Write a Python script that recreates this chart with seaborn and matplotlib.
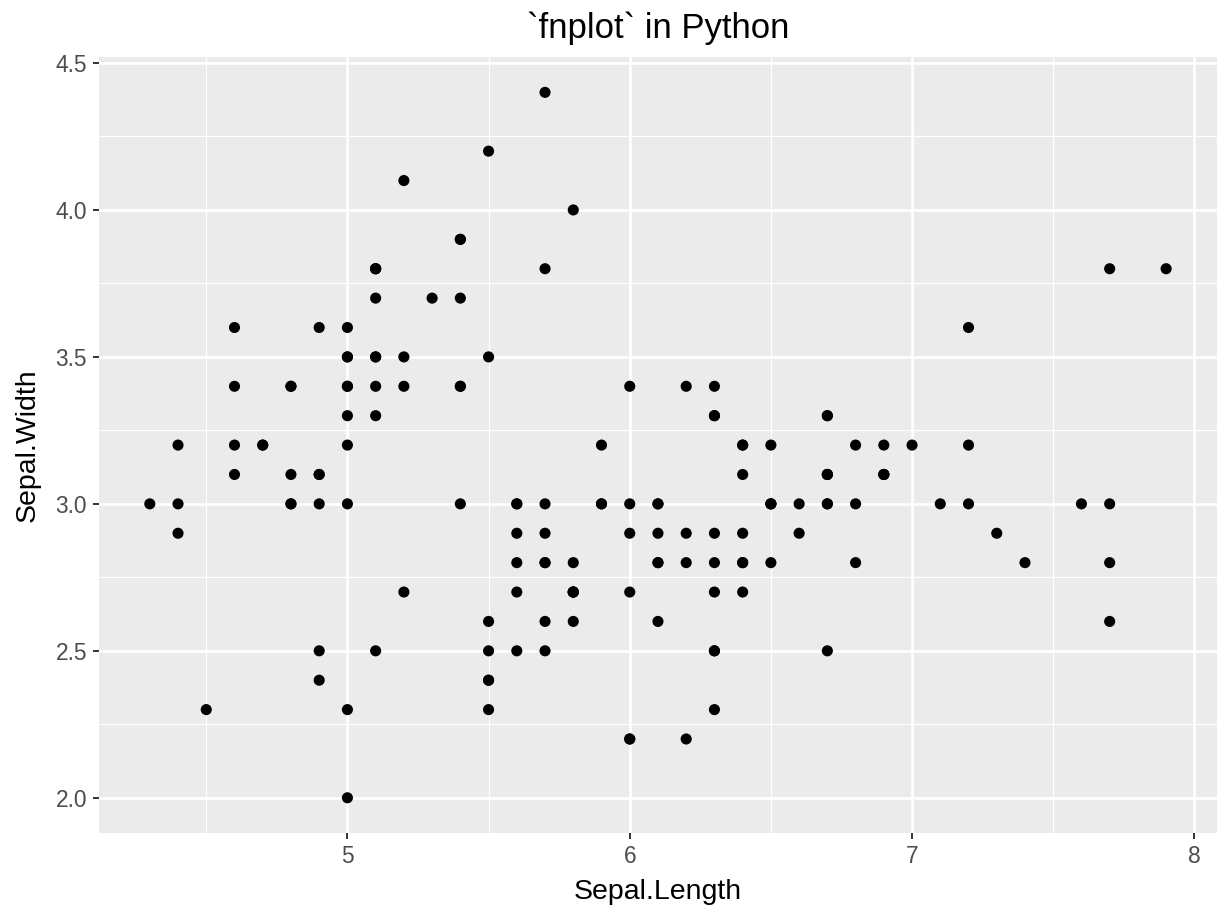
import numpy as np
import pandas as pd
import matplotlib
matplotlib.use("Agg")
import matplotlib.pyplot as plt
import seaborn as sns
from matplotlib.ticker import FixedLocator

# iris sepal measurements
sepal_length = [
    5.1, 4.9, 4.7, 4.6, 5.0, 5.4, 4.6, 5.0, 4.4, 4.9, 5.4, 4.8, 4.8, 4.3, 5.8, 5.7, 5.4, 5.1, 5.7, 5.1,
    5.4, 5.1, 4.6, 5.1, 4.8, 5.0, 5.0, 5.2, 5.2, 4.7, 4.8, 5.4, 5.2, 5.5, 4.9, 5.0, 5.5, 4.9, 4.4, 5.1,
    5.0, 4.5, 4.4, 5.0, 5.1, 4.8, 5.1, 4.6, 5.3, 5.0,
    7.0, 6.4, 6.9, 5.5, 6.5, 5.7, 6.3, 4.9, 6.6, 5.2, 5.0, 5.9, 6.0, 6.1, 5.6, 6.7, 5.6, 5.8, 6.2, 5.6,
    5.9, 6.1, 6.3, 6.1, 6.4, 6.6, 6.8, 6.7, 6.0, 5.7, 5.5, 5.5, 5.8, 6.0, 5.4, 6.0, 6.7, 6.3, 5.6, 5.5,
    5.5, 6.1, 5.8, 5.0, 5.6, 5.7, 5.7, 6.2, 5.1, 5.7,
    6.3, 5.8, 7.1, 6.3, 6.5, 7.6, 4.9, 7.3, 6.7, 7.2, 6.5, 6.4, 6.8, 5.7, 5.8, 6.4, 6.5, 7.7, 7.7, 6.0,
    6.9, 5.6, 7.7, 6.3, 6.7, 7.2, 6.2, 6.1, 6.4, 7.2, 7.4, 7.9, 6.4, 6.3, 6.1, 7.7, 6.3, 6.4, 6.0, 6.9,
    6.7, 6.9, 5.8, 6.8, 6.7, 6.7, 6.3, 6.5, 6.2, 5.9,
]
sepal_width = [
    3.5, 3.0, 3.2, 3.1, 3.6, 3.9, 3.4, 3.4, 2.9, 3.1, 3.7, 3.4, 3.0, 3.0, 4.0, 4.4, 3.9, 3.5, 3.8, 3.8,
    3.4, 3.7, 3.6, 3.3, 3.4, 3.0, 3.4, 3.5, 3.4, 3.2, 3.1, 3.4, 4.1, 4.2, 3.1, 3.2, 3.5, 3.6, 3.0, 3.4,
    3.5, 2.3, 3.2, 3.5, 3.8, 3.0, 3.8, 3.2, 3.7, 3.3,
    3.2, 3.2, 3.1, 2.3, 2.8, 2.8, 3.3, 2.4, 2.9, 2.7, 2.0, 3.0, 2.2, 2.9, 2.9, 3.1, 3.0, 2.7, 2.2, 2.5,
    3.2, 2.8, 2.5, 2.8, 2.9, 3.0, 2.8, 3.0, 2.9, 2.6, 2.4, 2.4, 2.7, 2.7, 3.0, 3.4, 3.1, 2.3, 3.0, 2.5,
    2.6, 3.0, 2.6, 2.3, 2.7, 3.0, 2.9, 2.9, 2.5, 2.8,
    3.3, 2.7, 3.0, 2.9, 3.0, 3.0, 2.5, 2.9, 2.5, 3.6, 3.2, 2.7, 3.0, 2.5, 2.8, 3.2, 3.0, 3.8, 2.6, 2.2,
    3.2, 2.8, 2.8, 2.7, 3.3, 3.2, 2.8, 3.0, 2.8, 3.0, 2.8, 3.8, 2.8, 2.8, 2.6, 3.0, 3.4, 3.1, 3.0, 3.1,
    3.1, 3.1, 2.7, 3.2, 3.3, 3.0, 2.5, 3.0, 3.4, 3.0,
]

x_ticks = [5, 6, 7, 8]
y_ticks = [2.0, 2.5, 3.0, 3.5, 4.0, 4.5]
x_minor = [4.5, 5.5, 6.5, 7.5]
y_minor = [2.25, 2.75, 3.25, 3.75, 4.25]

df = pd.DataFrame({"Sepal.Length": sepal_length, "Sepal.Width": sepal_width})

sns.set_style("darkgrid")
plt.rcParams["font.family"] = ["Liberation Sans", "DejaVu Sans"]

fig = plt.figure(figsize=(12.28, 9.21), dpi=100)
ax = fig.add_axes([0.0806, 0.0955, 0.9104, 0.8425])
ax.set_facecolor("#EBEBEB")

sns.scatterplot(data=df, x="Sepal.Length", y="Sepal.Width", color="black",
                s=64, edgecolor="none", linewidth=0, ax=ax, zorder=3)

# ggplot-style expansion of 5%
xr = max(sepal_length) - min(sepal_length)
yr = max(sepal_width) - min(sepal_width)
ax.set_xlim(min(sepal_length) - 0.05 * xr, max(sepal_length) + 0.05 * xr)
ax.set_ylim(min(sepal_width) - 0.05 * yr, max(sepal_width) + 0.05 * yr)

ax.xaxis.set_major_locator(FixedLocator(x_ticks))
ax.yaxis.set_major_locator(FixedLocator(y_ticks))
ax.xaxis.set_minor_locator(FixedLocator(x_minor))
ax.yaxis.set_minor_locator(FixedLocator(y_minor))
ax.set_xticklabels([str(v) for v in x_ticks])
ax.set_yticklabels([f"{v:.1f}" for v in y_ticks])

ax.grid(which="major", color="white", linewidth=1.9)
ax.grid(which="minor", color="white", linewidth=0.8)
ax.set_axisbelow(True)
for sp in ax.spines.values():
    sp.set_visible(False)

ax.tick_params(which="major", axis="both", length=4.5, width=1.4, color="#333333",
               labelsize=16.4, labelcolor="#4D4D4D", pad=4, left=True, bottom=True)
ax.tick_params(which="minor", length=0)

ax.set_xlabel("Sepal.Length", fontsize=20.5, color="black", labelpad=8)
ax.set_ylabel("Sepal.Width", fontsize=20.5, color="black", labelpad=11)
ax.set_title("`fnplot` in Python", fontsize=25, color="black", pad=14)

fig.savefig("out.png", dpi=100)
